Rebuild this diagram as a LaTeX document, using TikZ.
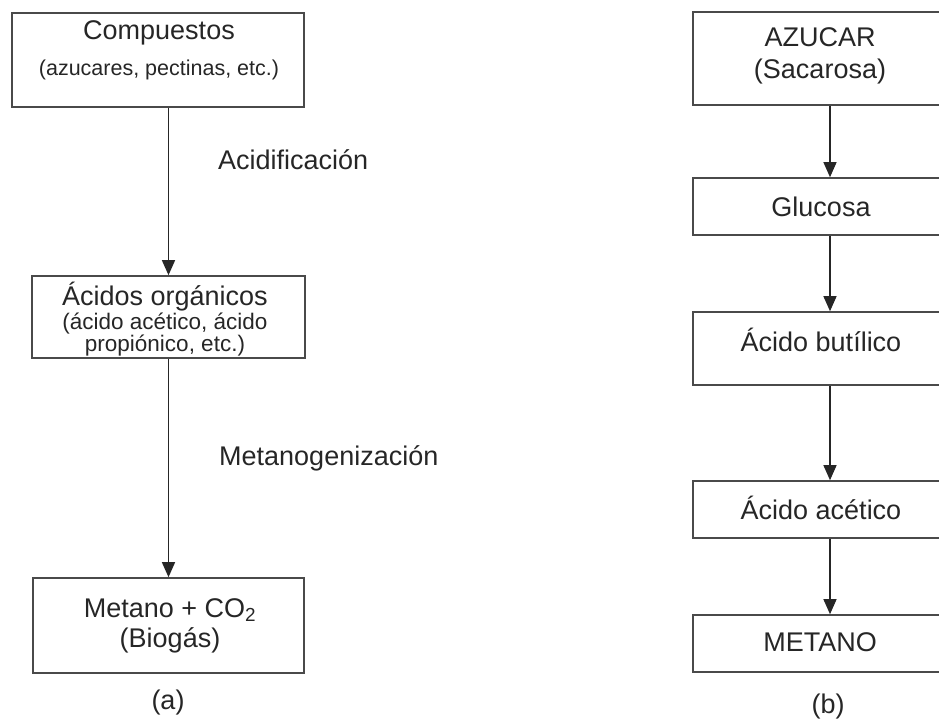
\documentclass[tikz,border=0pt]{standalone}
\usepackage{fontspec}
\setmainfont{Liberation Sans}
\usetikzlibrary{arrows.meta}
\definecolor{ink}{HTML}{262626}
\definecolor{boxc}{HTML}{4A4A4A}
\tikzset{
  box/.style={draw=boxc, line width=1.6pt, inner sep=0pt},
  big/.style={text=ink, inner sep=0pt, font=\fontsize{27}{31}\selectfont},
  small/.style={text=ink, inner sep=0pt, font=\fontsize{21.5}{25}\selectfont},
  multi/.style={text=ink, inner sep=0pt, align=center, font=\fontsize{22.5}{22}\selectfont},
  arr/.style={draw=ink, line width=1.3pt, -{Triangle[width=13pt,length=15pt]}, shorten >=0pt}
}
\begin{document}
\begin{tikzpicture}[x=1pt,y=-1pt]
\useasboundingbox (0,0) rectangle (939,726);
\clip (0,0) rectangle (939,726);
% left column
\node[box, minimum width=292pt, minimum height=94pt] (c) at (158,60) {};
\node[box, minimum width=273pt, minimum height=82pt] (a) at (168.5,317) {};
\node[box, minimum width=271pt, minimum height=95pt] (m) at (168.5,625.5) {};
\node[big] (ct) at (159,33) {Compuestos};
\node[small] (cs) at (159,70) {(azucares, pectinas, etc.)};
\node[multi] (at) at (165,319) {{\fontsize{27}{27}\selectfont Ácidos orgánicos}\\[1pt](ácido acético, ácido\\propiónico, etc.)};
\node[big] (mt) at (170,610) {Metano + CO\textsubscript{2}};
\node[big] (ms) at (170,640) {(Biogás)};
\node[big] (la) at (168,703) {(a)};
\node[big, anchor=west] (l1) at (218,160) {Acidificación};
\node[big, anchor=west] (l2) at (219,458) {Metanogenización};
\draw[arr] (c.south -| a.north) -- (a.north);
\draw[arr] (a.south) -- (m.north);
% right column
\node[box, minimum width=274pt, minimum height=93pt] (r1) at (830,58.5) {};
\node[box, minimum width=274pt, minimum height=57pt] (r2) at (830,206.5) {};
\node[box, minimum width=274pt, minimum height=73pt] (r3) at (830,348.5) {};
\node[box, minimum width=274pt, minimum height=57pt] (r4) at (830,509.5) {};
\node[box, minimum width=274pt, minimum height=57pt] (r5) at (830,643.5) {};
\node[big] (r1a) at (820,37) {AZUCAR};
\node[big] (r1b) at (820,72) {(Sacarosa)};
\node[big] (r2t) at (821,207) {Glucosa};
\node[big] (r3t) at (821,340) {Ácido butílico};
\node[big] (r4t) at (821,508) {Ácido acético};
\node[big] (r5t) at (820,642) {METANO};
\node[big] (lb) at (828,707) {(b)};
\draw[arr] (r1.south) -- (r2.north);
\draw[arr] (r2.south) -- (r3.north);
\draw[arr] (r3.south) -- (r4.north);
\draw[arr] (r4.south) -- (r5.north);
\end{tikzpicture}
\end{document}
